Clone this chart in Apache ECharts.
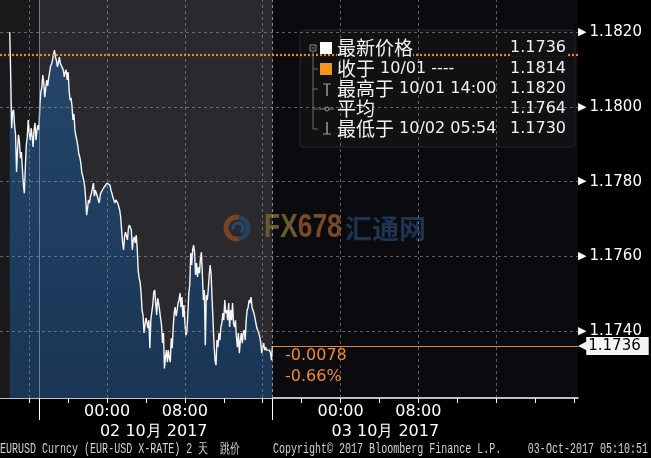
<!DOCTYPE html>
<html><head><meta charset="utf-8">
<script src="https://cdn.jsdelivr.net/npm/echarts@6/dist/echarts.min.js"></script>
<style>html,body{margin:0;padding:0;background:#000;}#c{width:651px;height:458px;}</style>
</head><body><div id="c"></div>
<script>
// hours relative to 02-Oct-2017 00:00
const hours = [
 -10.0,-9.9,-9.8,-9.7,-9.6,-9.5,-9.4,-9.3,-9.2,-9.1,
 -9.0,-8.9,-8.8,-8.7,-8.6,-8.5,-8.4,-8.3,-8.2,-8.1,
 -8.0,-7.9,-7.8,-7.7,-7.6,-7.5,-7.4,-7.3,-7.2,-7.1,
 -7.0,-6.9,-6.8,-6.7,-6.6,-6.5,-6.4,-6.3,-6.2,-6.1,
 -6.0,-5.9,-5.8,-5.7,-5.6,-5.5,-5.4,-5.3,-5.2,-5.1,
 -5.0,-4.9,-4.8,-4.7,-4.6,-4.5,-4.4,-4.3,-4.2,-4.1,
 -4.0,-3.9,-3.8,-3.7,-3.6,-3.5,-3.4,-3.3,-3.2,-3.1,
 -3.0,-2.9,-2.8,-2.7,-2.6,-2.5,-2.4,-2.3,-2.2,-2.1,
 -2.0,-1.9,-1.8,-1.7,-1.6,-1.5,-1.4,-1.3,-1.2,-1.1,
 -1.0,-0.9,-0.8,-0.7,-0.6,-0.5,-0.4,-0.3,-0.2,-0.1,
 0.0,0.1,0.2,0.3,0.4,0.5,0.6,0.7,0.8,0.9,
 1.0,1.1,1.2,1.3,1.4,1.5,1.6,1.7,1.8,1.9,
 2.0,2.1,2.2,2.3,2.4,2.5,2.6,2.7,2.8,2.9,
 3.0,3.1,3.2,3.3,3.4,3.5,3.6,3.7,3.8,3.9,
 4.0,4.1,4.2,4.3,4.4,4.5,4.6,4.7,4.8,4.9,
 5.0,5.1,5.2,5.3,5.4,5.5,5.6,5.7,5.8,5.9,
 6.0,6.1,6.2,6.3,6.4,6.5,6.6,6.7,6.8,6.9,
 7.0,7.1,7.2,7.3,7.4,7.5,7.6,7.7,7.8,7.9,
 8.0,8.1,8.2,8.3,8.4,8.5,8.6,8.7,8.8,8.9,
 9.0,9.1,9.2,9.3,9.4,9.5,9.6,9.7,9.8,9.9,
 10.0,10.1,10.2,10.3,10.4,10.5,10.6,10.7,10.8,10.9,
 11.0,11.1,11.2,11.3,11.4,11.5,11.6,11.7,11.8,11.9,
 12.0,12.1,12.2,12.3,12.4,12.5,12.6,12.7,12.8,12.9,
 13.0,13.1,13.2,13.3,13.4,13.5,13.6,13.7,13.8,13.9,
 14.0,14.1,14.2,14.3,14.4,14.5,14.6,14.7,14.8,14.9,
 15.0,15.1,15.2,15.3,15.4,15.5,15.6,15.7,15.8,15.9,
 16.0,16.1,16.2,16.3,16.4,16.5,16.6,16.7,16.8,16.9,
 17.0
];
const prices = [
 1.18200,1.18085,1.17943,1.17986,1.17992,1.17949,1.17925,1.17826,1.17884,1.17925,
 1.17906,1.17863,1.17879,1.17836,1.17793,1.17769,1.17836,1.17898,1.17917,1.17965,
 1.17933,1.17911,1.17943,1.17922,1.17893,1.17938,1.17957,1.17911,1.17938,1.17951,
 1.17938,1.18005,1.18040,1.18053,1.18085,1.18064,1.18026,1.18050,1.18072,1.18056,
 1.18077,1.18093,1.18109,1.18115,1.18125,1.18141,1.18152,1.18133,1.18125,1.18107,
 1.18117,1.18133,1.18117,1.18112,1.18117,1.18099,1.18080,1.18093,1.18099,1.18072,
 1.18093,1.18045,1.18018,1.18024,1.18002,1.17965,1.17981,1.17938,1.17922,1.17911,
 1.17895,1.17874,1.17866,1.17850,1.17826,1.17815,1.17804,1.17788,1.17756,1.17710,
 1.17729,1.17751,1.17743,1.17761,1.17769,1.17783,1.17796,1.17761,1.17777,1.17769,
 1.17761,1.17751,1.17743,1.17764,1.17772,1.17777,1.17777,1.17785,1.17788,1.17785,
 1.17796,1.17801,1.17793,1.17791,1.17777,1.17769,1.17759,1.17751,1.17743,1.17751,
 1.17751,1.17743,1.17740,1.17724,1.17705,1.17670,1.17636,1.17617,1.17652,1.17665,
 1.17670,1.17644,1.17676,1.17684,1.17681,1.17670,1.17617,1.17644,1.17652,1.17636,
 1.17657,1.17622,1.17563,1.17542,1.17531,1.17502,1.17456,1.17443,1.17395,1.17416,
 1.17435,1.17424,1.17408,1.17429,1.17354,1.17429,1.17451,1.17470,1.17504,1.17510,
 1.17475,1.17443,1.17488,1.17475,1.17456,1.17435,1.17416,1.17368,1.17395,1.17300,
 1.17330,1.17349,1.17317,1.17349,1.17328,1.17317,1.17381,1.17354,1.17411,1.17448,
 1.17464,1.17440,1.17456,1.17475,1.17483,1.17502,1.17464,1.17491,1.17437,1.17470,
 1.17424,1.17389,1.17397,1.17443,1.17502,1.17523,1.17609,1.17577,1.17617,1.17630,
 1.17609,1.17550,1.17582,1.17545,1.17571,1.17555,1.17595,1.17611,1.17550,1.17483,
 1.17510,1.17362,1.17496,1.17483,1.17510,1.17550,1.17577,1.17550,1.17483,1.17424,
 1.17362,1.17322,1.17309,1.17376,1.17357,1.17395,1.17376,1.17411,1.17421,1.17448,
 1.17429,1.17483,1.17448,1.17456,1.17429,1.17475,1.17411,1.17456,1.17429,1.17475,
 1.17421,1.17411,1.17429,1.17384,1.17357,1.17395,1.17341,1.17376,1.17395,1.17368,
 1.17395,1.17403,1.17376,1.17429,1.17456,1.17464,1.17483,1.17475,1.17491,1.17464,
 1.17456,1.17448,1.17435,1.17421,1.17408,1.17403,1.17395,1.17384,1.17368,1.17341,
 1.17357,1.17368,1.17349,1.17357,1.17349,1.17354,1.17344,1.17349,1.17341,1.17322,
 1.17360
];
const xMin = -11, xMax = 48.4;
const yMin = 1.17221, yMax = 1.18286;
const yLabelValues = [1.174, 1.176, 1.178, 1.180, 1.182];
const yMinorTicks = [1.173, 1.175, 1.177, 1.179, 1.181];
const xTickHours = [-8,-4,0,4,8,12,16,20,24,28,32,36,40,44,48];
const xLabelHours = [0, 8, 24, 32];
const dateLabelHours = [4.8, 28.6];
const dateLabels = ['02 10月 2017', '03 10月 2017'];
const sessionBreaks = [-7, 17];
const gridHours = [-8, 0, 8, 16, 24, 32, 40];
const lastPrice = 1.1736;
const prevClose = 1.1814;
const changeAbs = '-0.0078';
const changePct = '-0.66%';
const legendLabels = ['{c|最新价格}', '{c|收于} 10/01 ----', '{c|最高于} 10/01 14:00', '{c|平均}', '{c|最低于} 10/02 05:54'];
const legendValues = ['1.1736', '1.1814', '1.1820', '1.1764', '1.1730'];
const footerLeft = 'EURUSD Curncy (EUR-USD X-RATE) 2 天  跳价';
const footerMid = 'Copyright© 2017 Bloomberg Finance L.P.';
const footerRight = '03-Oct-2017 05:10:51';

const NUM = 'DejaVu Sans';
const CJK = '"Noto Sans CJK SC"';
const seriesData = hours.map((h, i) => [h, prices[i]]);
const chart = echarts.init(document.getElementById('c'), null, {renderer: 'canvas'});

const rowY = [48, 69, 89, 109, 129];
const graphics = [];
// legend box
graphics.push({type:'rect', z: 3, shape:{x:300, y:30, width:275, height:117, r:3},
  style:{fill:'rgba(18,18,21,0.92)', stroke:'#26262a', lineWidth:1}, silent:true});
// tree lines
graphics.push({type:'polyline', z: 6, shape:{points:[[313,52],[313,129],[318,129]]}, style:{stroke:'#6d6d6d', lineWidth:1, fill:null}});
[69, 89, 109].forEach(y => graphics.push({type:'line', z:6, shape:{x1:313,y1:y,x2:318,y2:y}, style:{stroke:'#6d6d6d', lineWidth:1}}));
graphics.push({type:'rect', z:6, shape:{x:310, y:45, width:6, height:6}, style:{fill:'#141417', stroke:'#8a8a8a', lineWidth:1}});
graphics.push({type:'line', z:6, shape:{x1:311.5,y1:48,x2:314.5,y2:48}, style:{stroke:'#8a8a8a', lineWidth:1}});
graphics.push({type:'rect', z:6, shape:{x:320, y:42, width:12, height:12}, style:{fill:'#ffffff'}});
graphics.push({type:'rect', z:6, shape:{x:320, y:63, width:12, height:12}, style:{fill:'#f0961e'}});
// high icon
graphics.push({type:'line', z:6, shape:{x1:323,y1:84,x2:331,y2:84}, style:{stroke:'#9a9a9a', lineWidth:1}});
graphics.push({type:'line', z:6, shape:{x1:327,y1:84,x2:327,y2:96}, style:{stroke:'#9a9a9a', lineWidth:1.5}});
// avg icon
graphics.push({type:'line', z:6, shape:{x1:319,y1:109,x2:334,y2:109}, style:{stroke:'#8a8a8a', lineWidth:1}});
graphics.push({type:'circle', z:6, shape:{cx:327, cy:109, r:2}, style:{fill:'#141417', stroke:'#9a9a9a', lineWidth:1}});
// low icon
graphics.push({type:'line', z:6, shape:{x1:327,y1:122,x2:327,y2:134}, style:{stroke:'#9a9a9a', lineWidth:1.5}});
graphics.push({type:'line', z:6, shape:{x1:323,y1:134,x2:331,y2:134}, style:{stroke:'#9a9a9a', lineWidth:1}});
legendLabels.forEach((t, i) => {
  graphics.push({type:'text', z:6, x:337, y:rowY[i], style:{text:t, fill:'#f2f2f2', font:'16px ' + NUM, verticalAlign:'middle', align:'left',
    backgroundColor: i === 0 ? '#121215' : null,
    rich:{c:{fontFamily:CJK, fontSize:19, fill:'#f2f2f2', backgroundColor: i === 0 ? '#121215' : null}}}});
  graphics.push({type:'text', z:6, x:566, y:rowY[i], style:{text:legendValues[i], fill:'#f2f2f2', font:'16px ' + NUM, verticalAlign:'middle', align:'right', backgroundColor: i === 0 ? '#121215' : null}});
});
// change annotation
graphics.push({type:'text', z:6, x:285, y:356, style:{text:changeAbs, fill:'#ec8c3c', font:'16px ' + NUM, verticalAlign:'middle'}});
graphics.push({type:'text', z:6, x:285, y:377, style:{text:changePct, fill:'#ec8c3c', font:'16px ' + NUM, verticalAlign:'middle'}});
// watermark
graphics.push({type:'arc', z:1.5, shape:{cx:237, cy:228, r:11, startAngle:Math.PI*0.45, endAngle:Math.PI*1.55}, style:{stroke:'#7c4226', lineWidth:5, fill:null}});
graphics.push({type:'arc', z:1.5, shape:{cx:237, cy:228, r:11, startAngle:-Math.PI*0.45, endAngle:Math.PI*0.45}, style:{stroke:'#25425f', lineWidth:5, fill:null}});
graphics.push({type:'arc', z:1.5, shape:{cx:238, cy:228, r:5, startAngle:Math.PI*0.9, endAngle:Math.PI*2.3}, style:{stroke:'#2a4a6a', lineWidth:3, fill:null}});
graphics.push({type:'text', z:1.5, x:264, y:228, scaleX:0.8, style:{text:'{a|FX}{b|678}', verticalAlign:'middle', font:'bold 33px "Liberation Sans"',
  rich:{a:{fill:'#6b5a2c', fontSize:33, fontWeight:'bold', fontFamily:'Liberation Sans'}, b:{fill:'#7a4a28', fontSize:33, fontWeight:'bold', fontFamily:'Liberation Sans'}}}});
graphics.push({type:'text', z:1.5, x:345, y:229, style:{text:'汇通网', fill:'#1d3452', font:'bold 27px ' + CJK, verticalAlign:'middle'}});
// footer
const footStyle = {fill:'#d2d2d2', font:'14px "Liberation Mono"', verticalAlign:'middle'};
graphics.push({type:'text', x:0, y:449, scaleX:0.715, style:Object.assign({text:footerLeft, align:'left'}, footStyle)});
graphics.push({type:'text', x:273, y:449, scaleX:0.715, style:Object.assign({text:footerMid, align:'left'}, footStyle)});
graphics.push({type:'text', x:648, y:449, scaleX:0.715, style:Object.assign({text:footerRight, align:'right'}, footStyle)});

const option = {
  backgroundColor: '#000',
  animation: false,
  grid: {left:0, right:73, top:0, bottom:60, show:true, backgroundColor:'#0b0b0f', borderWidth:0},
  xAxis: [{
    type:'value', min:xMin, max:xMax, position:'bottom',
    axisLine:{show:true, lineStyle:{color:'#ffffff', width:1.5}},
    axisTick:{show:true, customValues:xTickHours, length:5, lineStyle:{color:'#ffffff'}},
    axisLabel:{customValues:xLabelHours, color:'#ffffff', fontSize:16, fontFamily:NUM, margin:6,
      formatter: v => String(((v % 24) + 24) % 24).padStart(2, '0') + ':00'},
    splitLine:{show:false}
  }, {
    type:'value', min:xMin, max:xMax, position:'bottom', gridIndex:0,
    axisLine:{show:false},
    axisTick:{show:true, customValues:sessionBreaks, length:22, lineStyle:{color:'#ffffff'}},
    axisLabel:{customValues:dateLabelHours, color:'#ffffff', fontSize:16, fontFamily:NUM, margin:26,
      formatter: v => dateLabels[dateLabelHours.indexOf(v)]},
    splitLine:{show:false}
  }],
  yAxis: {
    type:'value', min:yMin, max:yMax, position:'right',
    axisLine:{show:true, lineStyle:{color:'#ffffff', width:1.5}},
    axisTick:{show:true, customValues:yMinorTicks, length:6, lineStyle:{color:'#ffffff'}},
    axisLabel:{customValues:yLabelValues, margin:0, formatter: v => '{t|▶}{n|' + v.toFixed(4) + '}',
      rich:{t:{color:'#ffffff', fontSize:11, fontFamily:NUM, padding:[0,3,0,0]}, n:{color:'#ffffff', fontSize:15, fontFamily:NUM}}},
    splitLine:{show:false}
  },
  graphic: graphics,
  series: [
    { // background session shading
      type:'line', z:1, data:[], silent:true,
      markArea:{silent:true, itemStyle:{color:'#2a292e'}, data:[[{xAxis:xMin},{xAxis:sessionBreaks[1]}]]}
    },
    { // area fill
      type:'line', z:2, data:seriesData, showSymbol:false, silent:true,
      lineStyle:{width:0, opacity:0},
      areaStyle:{origin:'start', opacity:1, color:new echarts.graphic.LinearGradient(0,0,0,1,[{offset:0,color:'#24476b'},{offset:1,color:'#1a3555'}])}
    },
    { // overlay off-session + gridlines
      type:'line', z:3, data:[], silent:true,
      markArea:{silent:true, itemStyle:{color:'rgba(0,0,0,0.4)'}, data:[[{xAxis:xMin},{xAxis:sessionBreaks[0]}]]},
      markLine:{silent:true, symbol:'none', precision:6, label:{show:false},
        lineStyle:{color:'rgba(150,150,155,0.6)', type:[3,3], width:1},
        data: gridHours.map(h => ({xAxis:h})).concat(yLabelValues.map(v => ({yAxis:v}))).concat([
          {xAxis:sessionBreaks[0], lineStyle:{color:'rgba(140,160,185,0.7)', type:'solid', width:1}},
          {xAxis:sessionBreaks[1], lineStyle:{color:'rgba(170,170,170,0.8)', type:[3,3], width:1}}
        ])}
    },
    { // price line
      type:'line', z:4, data:seriesData, showSymbol:false, silent:true,
      lineStyle:{color:'#f6f6f6', width:1.4},
      markLine:{silent:true, symbol:'none', precision:6,
        data:[
          {yAxis:prevClose, label:{show:false}, lineStyle:{color:'#e8892a', type:[2,2], width:2.2}},
          [{coord:[sessionBreaks[1], lastPrice], lineStyle:{color:'#e8833a', type:'solid', width:1},
            label:{show:true, position:'end', distance:0, formatter:'{a|◀}{b|' + lastPrice.toFixed(4) + '}',
              rich:{a:{color:'#f4f4f4', fontSize:12, fontFamily:NUM, padding:[0,-1,0,0]},
                    b:{backgroundColor:'#f4f4f4', color:'#000', fontSize:15, fontFamily:NUM, padding:[2,8,1,2], lineHeight:18}}}},
           {coord:[xMax, lastPrice]}]
        ]}
    }
  ]
};
chart.setOption(option);
</script></body></html>
